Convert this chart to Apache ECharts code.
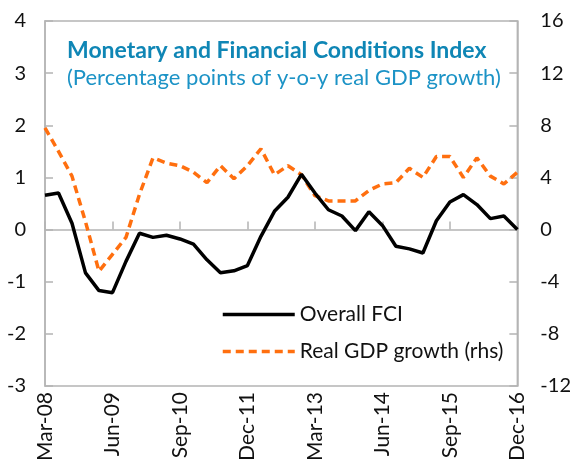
<!DOCTYPE html>
<html>
<head>
<meta charset="utf-8">
<script src="https://cdn.jsdelivr.net/npm/echarts@6/dist/echarts.min.js"></script>
<style>
  html, body { margin: 0; padding: 0; background: #fff; }
  #chart { width: 574px; height: 466px; }
</style>
</head>
<body>
<div id="chart"></div>
<script>
const quarters = [
  'Mar-08', 'Jun-08', 'Sep-08', 'Dec-08', 'Mar-09', 'Jun-09', 'Sep-09', 'Dec-09',
  'Mar-10', 'Jun-10', 'Sep-10', 'Dec-10', 'Mar-11', 'Jun-11', 'Sep-11', 'Dec-11',
  'Mar-12', 'Jun-12', 'Sep-12', 'Dec-12', 'Mar-13', 'Jun-13', 'Sep-13', 'Dec-13',
  'Mar-14', 'Jun-14', 'Sep-14', 'Dec-14', 'Mar-15', 'Jun-15', 'Sep-15', 'Dec-15',
  'Mar-16', 'Jun-16', 'Sep-16', 'Dec-16'
];

const overallFci = [
  0.66, 0.70, 0.12, -0.83, -1.17, -1.21, -0.61, -0.07,
  -0.15, -0.11, -0.18, -0.28, -0.58, -0.83, -0.79, -0.69,
  -0.13, 0.35, 0.62, 1.06, 0.70, 0.38, 0.26, -0.02,
  0.34, 0.08, -0.32, -0.37, -0.45, 0.17, 0.53, 0.67,
  0.48, 0.21, 0.26, 0.0
];

const realGdpGrowth = [
  7.8, 6.0, 4.1, 0.6, -3.2, -1.9, -0.6, 2.7,
  5.5, 5.1, 4.9, 4.4, 3.6, 4.9, 3.9, 4.9,
  6.2, 4.2, 4.9, 4.2, 2.6, 2.2, 2.2, 2.2,
  3.0, 3.5, 3.6, 4.7, 4.0, 5.6, 5.6, 4.0,
  5.5, 4.1, 3.5, 4.4
];

const font = 'Lato, "Open Sans", sans-serif';
const gray = '#b4b4b4';

const chart = echarts.init(document.getElementById('chart'), null, { renderer: 'canvas' });

chart.setOption({
  backgroundColor: '#fff',
  animation: false,
  textStyle: { fontFamily: font },
  title: {
    text: 'Monetary and Financial Conditions Index',
    subtext: '(Percentage points of y-o-y real GDP growth)',
    left: 62,
    top: 34,
    itemGap: 5,
    textStyle: { fontFamily: font, fontSize: 23, fontWeight: 'bold', color: '#0f86b5' },
    subtextStyle: { fontFamily: font, fontSize: 22, color: '#1c93c6' }
  },
  legend: {
    orient: 'vertical',
    left: 216,
    top: 299,
    itemWidth: 72,
    itemHeight: 12,
    itemGap: 16,
    itemStyle: { opacity: 0 },
    lineStyle: { width: 3.5 },
    textStyle: { fontFamily: font, fontSize: 21, color: '#111' },
    data: ['Overall FCI', 'Real GDP growth (rhs)']
  },
  grid: {
    left: 45, right: 56, top: 21, bottom: 80,
    show: true, borderColor: gray, borderWidth: 1.5
  },
  xAxis: [
    {
      type: 'category',
      data: quarters,
      boundaryGap: false,
      axisLine: { onZero: true, onZeroAxisIndex: 0, lineStyle: { color: gray, width: 1.5 } },
      axisTick: { inside: true, length: 8, interval: 4, lineStyle: { color: gray, width: 1.5 } },
      axisLabel: { show: false },
      splitLine: { show: false }
    },
    {
      type: 'category',
      data: quarters,
      boundaryGap: false,
      position: 'bottom',
      axisLine: { show: false, onZero: false },
      axisTick: { show: false },
      axisLabel: { interval: 4, rotate: 90, margin: 6, fontSize: 21, color: '#111', fontFamily: font },
      splitLine: { show: false }
    }
  ],
  yAxis: [
    {
      type: 'value',
      min: -3, max: 4, interval: 1,
      axisLine: { show: true, lineStyle: { color: gray, width: 1.5 } },
      axisTick: { show: true, inside: true, length: 8, lineStyle: { color: gray, width: 1.5 } },
      axisLabel: { fontSize: 20, color: '#111', margin: 19, fontFamily: font },
      splitLine: { show: false }
    },
    {
      type: 'value',
      min: -12, max: 16, interval: 4,
      position: 'right',
      axisLine: { show: true, lineStyle: { color: gray, width: 1.5 } },
      axisTick: { show: true, inside: true, length: 8, lineStyle: { color: gray, width: 1.5 } },
      axisLabel: { fontSize: 20, color: '#111', margin: 23, fontFamily: font },
      splitLine: { show: false }
    }
  ],
  series: [
    {
      name: 'Real GDP growth (rhs)',
      type: 'line',
      yAxisIndex: 1,
      data: realGdpGrowth,
      symbol: 'none',
      lineStyle: { color: '#ff6f0f', width: 3.5, type: [8, 5] },
      itemStyle: { color: '#ff6f0f' },
      z: 2
    },
    {
      name: 'Overall FCI',
      type: 'line',
      yAxisIndex: 0,
      data: overallFci,
      symbol: 'none',
      lineStyle: { color: '#000', width: 3.5 },
      itemStyle: { color: '#000' },
      z: 3
    }
  ]
});
</script>
</body>
</html>
